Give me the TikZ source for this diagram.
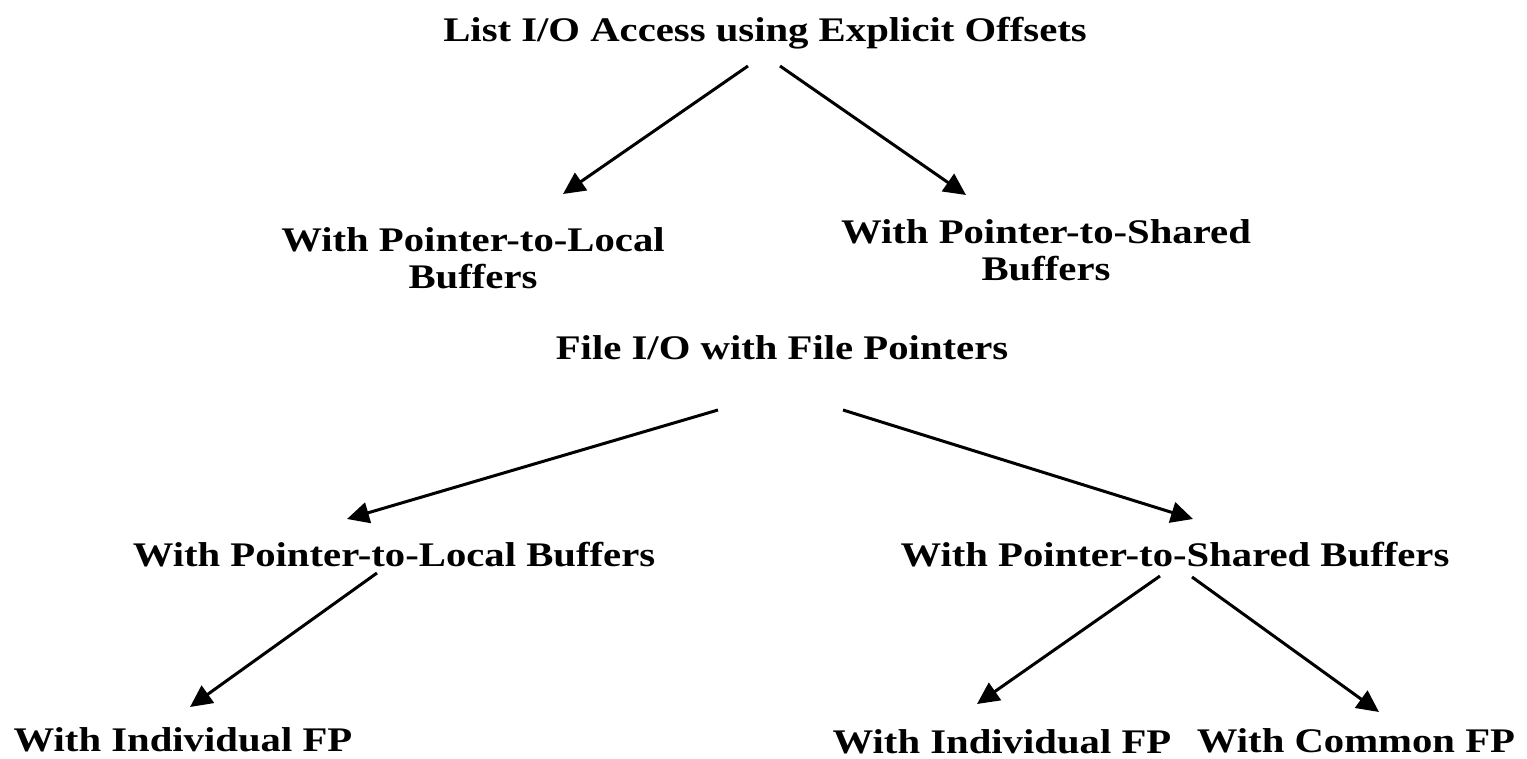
\documentclass[tikz,border=0pt]{standalone}
\usepackage{fontspec}
\setmainfont{Liberation Serif}[FakeStretch=1.18]
\usetikzlibrary{arrows.meta}
\begin{document}
\begin{tikzpicture}[x=1pt,y=-1pt,
  lbl/.style={font=\fontsize{34.5}{37}\selectfont\bfseries, inner sep=0pt},
  lbltwo/.style={lbl, align=center},
  arr/.style={line width=3pt, -{Triangle[length=22pt,width=21pt]}}]
\useasboundingbox (0,0) rectangle (1527,759);
% labels
\node[lbl] (list) at (765,33) {List I/O Access using Explicit Offsets};
\node[lbltwo] (lloc) at (473,258) {With Pointer-to-Local\\Buffers};
\node[lbltwo] (lsh) at (1046,250) {With Pointer-to-Shared\\Buffers};
\node[lbl] (file) at (782,348) {File I/O with File Pointers};
\node[lbl] (floc) at (394,555) {With Pointer-to-Local Buffers};
\node[lbl] (fsh) at (1175,555) {With Pointer-to-Shared Buffers};
\node[lbl] (lind) at (183,740) {With Individual FP};
\node[lbl] (rind) at (1002,742) {With Individual FP};
\node[lbl] (com) at (1356,741) {With Common FP};
% connector end points
\coordinate (a1) at (748,66);  \coordinate (b1) at (563,194);
\coordinate (a2) at (780,66);  \coordinate (b2) at (966,195);
\coordinate (a3) at (718,410); \coordinate (b3) at (347,519);
\coordinate (a4) at (843,410); \coordinate (b4) at (1193,519);
\coordinate (a5) at (377,573); \coordinate (b5) at (190,707);
\coordinate (a6) at (1160,576); \coordinate (b6) at (977,704);
\coordinate (a7) at (1192,577); \coordinate (b7) at (1379,712);
% connectors
\draw[arr] (a1) -- (b1);
\draw[arr] (a2) -- (b2);
\draw[arr] (a3) -- (b3);
\draw[arr] (a4) -- (b4);
\draw[arr] (a5) -- (b5);
\draw[arr] (a6) -- (b6);
\draw[arr] (a7) -- (b7);
\end{tikzpicture}
\end{document}
